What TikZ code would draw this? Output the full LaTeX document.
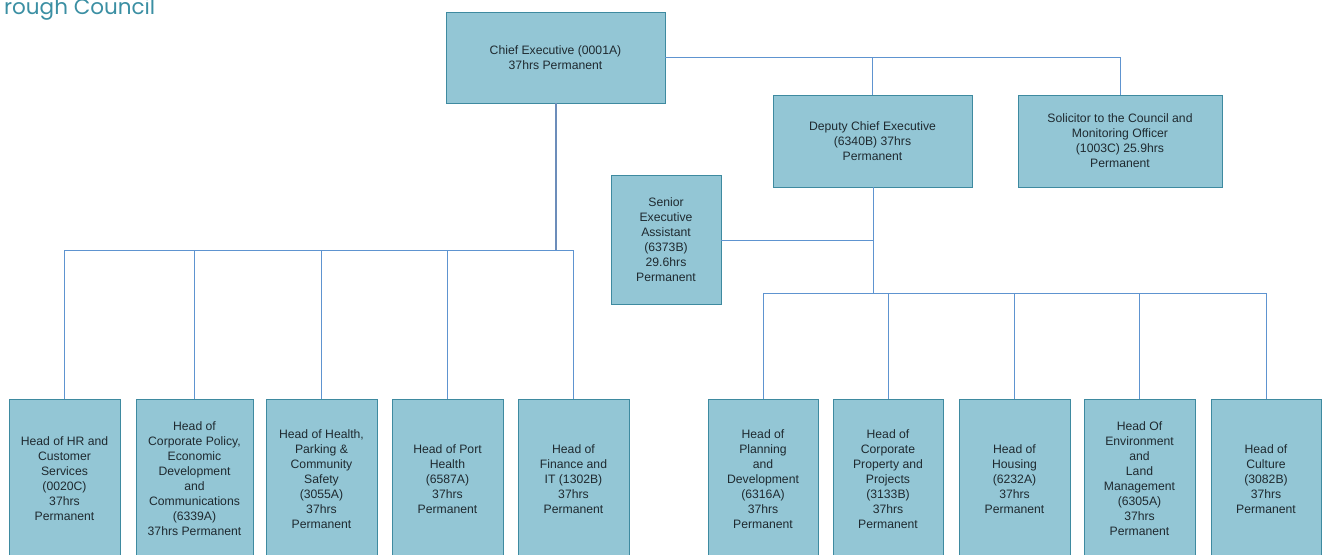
\documentclass[tikz,border=0pt]{standalone}
\usepackage{fontspec}
\setmainfont{Liberation Sans}
\newfontfamily\titlefont{Poppins}
\definecolor{boxfill}{HTML}{93C6D5}
\definecolor{boxline}{HTML}{3E8AA0}
\definecolor{linkline}{HTML}{5E94D0}
\definecolor{chiefline}{HTML}{6C8DBA}
\definecolor{txt}{HTML}{1F2A30}
\definecolor{titlecol}{HTML}{3B8FA3}
\begin{document}
\begin{tikzpicture}[x=1pt,y=-1pt,
  post/.style={draw=boxline, line width=0.9pt, fill=boxfill, text=txt,
    font=\fontsize{12.2}{15}\selectfont, align=center, inner sep=0pt},
  link/.style={draw=linkline, line width=1pt},
  toplink/.style={draw=chiefline, line width=1.4pt}]
\useasboundingbox (0,0) rectangle (1327,554);
\clip (0,0) rectangle (1327,554);

% heading, partly outside the page
\node[anchor=base west, inner sep=0pt, text=titlecol, font=\titlefont\fontsize{21.5}{24}\selectfont] (heading) at (4,14) {rough Council};

% senior posts
\node[post, minimum width=219, minimum height=91] (chief) at (555.5,57.5) {Chief Executive (0001A)\\37hrs Permanent};
\node[post, minimum width=199, minimum height=92] (deputy) at (872.5,141) {Deputy Chief Executive\\(6340B) 37hrs\\Permanent};
\node[post, minimum width=204, minimum height=92] (solicitor) at (1120,141) {Solicitor to the Council and\\Monitoring Officer\\(1003C) 25.9hrs\\Permanent};
\node[post, minimum width=110, minimum height=129] (sea) at (666,239.5) {Senior\\Executive\\Assistant\\(6373B)\\29.6hrs\\Permanent};

% heads of service reporting to the Chief Executive
\node[post, minimum width=111, minimum height=160] (hr) at (64.5,479) {Head of HR and\\Customer\\Services\\(0020C)\\37hrs\\Permanent};
\node[post, minimum width=117, minimum height=160] (policy) at (194.5,479) {Head of\\Corporate Policy,\\Economic\\Development\\and\\Communications\\(6339A)\\37hrs Permanent};
\node[post, minimum width=111, minimum height=160] (health) at (321.5,479) {Head of Health,\\Parking \&\\Community\\Safety\\(3055A)\\37hrs\\Permanent};
\node[post, minimum width=111, minimum height=160] (port) at (447.5,479) {Head of Port\\Health\\(6587A)\\37hrs\\Permanent};
\node[post, minimum width=111, minimum height=160] (finance) at (573.5,479) {Head of\\Finance and\\IT (1302B)\\37hrs\\Permanent};

% heads of service reporting to the Deputy Chief Executive
\node[post, minimum width=110, minimum height=160] (planning) at (763,479) {Head of\\Planning\\and\\Development\\(6316A)\\37hrs\\Permanent};
\node[post, minimum width=110, minimum height=160] (property) at (888,479) {Head of\\Corporate\\Property and\\Projects\\(3133B)\\37hrs\\Permanent};
\node[post, minimum width=111, minimum height=160] (housing) at (1014.5,479) {Head of\\Housing\\(6232A)\\37hrs\\Permanent};
\node[post, minimum width=111, minimum height=160] (environment) at (1139.5,479) {Head Of\\Environment\\and\\Land\\Management\\(6305A)\\37hrs\\Permanent};
\node[post, minimum width=110, minimum height=160] (culture) at (1266,479) {Head of\\Culture\\(3082B)\\37hrs\\Permanent};

% junction points
\coordinate (cbus) at (556,250);
\coordinate (dbus) at (873,293);
\coordinate (seaj) at (873,240);

% Chief Executive to the left-hand team
\draw[toplink] (chief.south -| cbus) -- (cbus);
\draw[link] (hr.north |- cbus) -- (finance.north |- cbus);
\foreach \n in {hr,policy,health,port,finance}
  \draw[link] (\n.north |- cbus) -- (\n.north);

% Chief Executive to the deputy and the solicitor
\draw[link] (chief.east) -- (solicitor.north |- chief.east) -- (solicitor.north);
\draw[link] (deputy.north |- chief.east) -- (deputy.north);

% Deputy Chief Executive to the assistant and the right-hand team
\draw[link] (deputy.south -| dbus) -- (dbus);
\draw[link] (sea.east |- seaj) -- (seaj);
\draw[link] (planning.north |- dbus) -- (culture.north |- dbus);
\foreach \n in {planning,property,housing,environment,culture}
  \draw[link] (\n.north |- dbus) -- (\n.north);
\end{tikzpicture}
\end{document}
